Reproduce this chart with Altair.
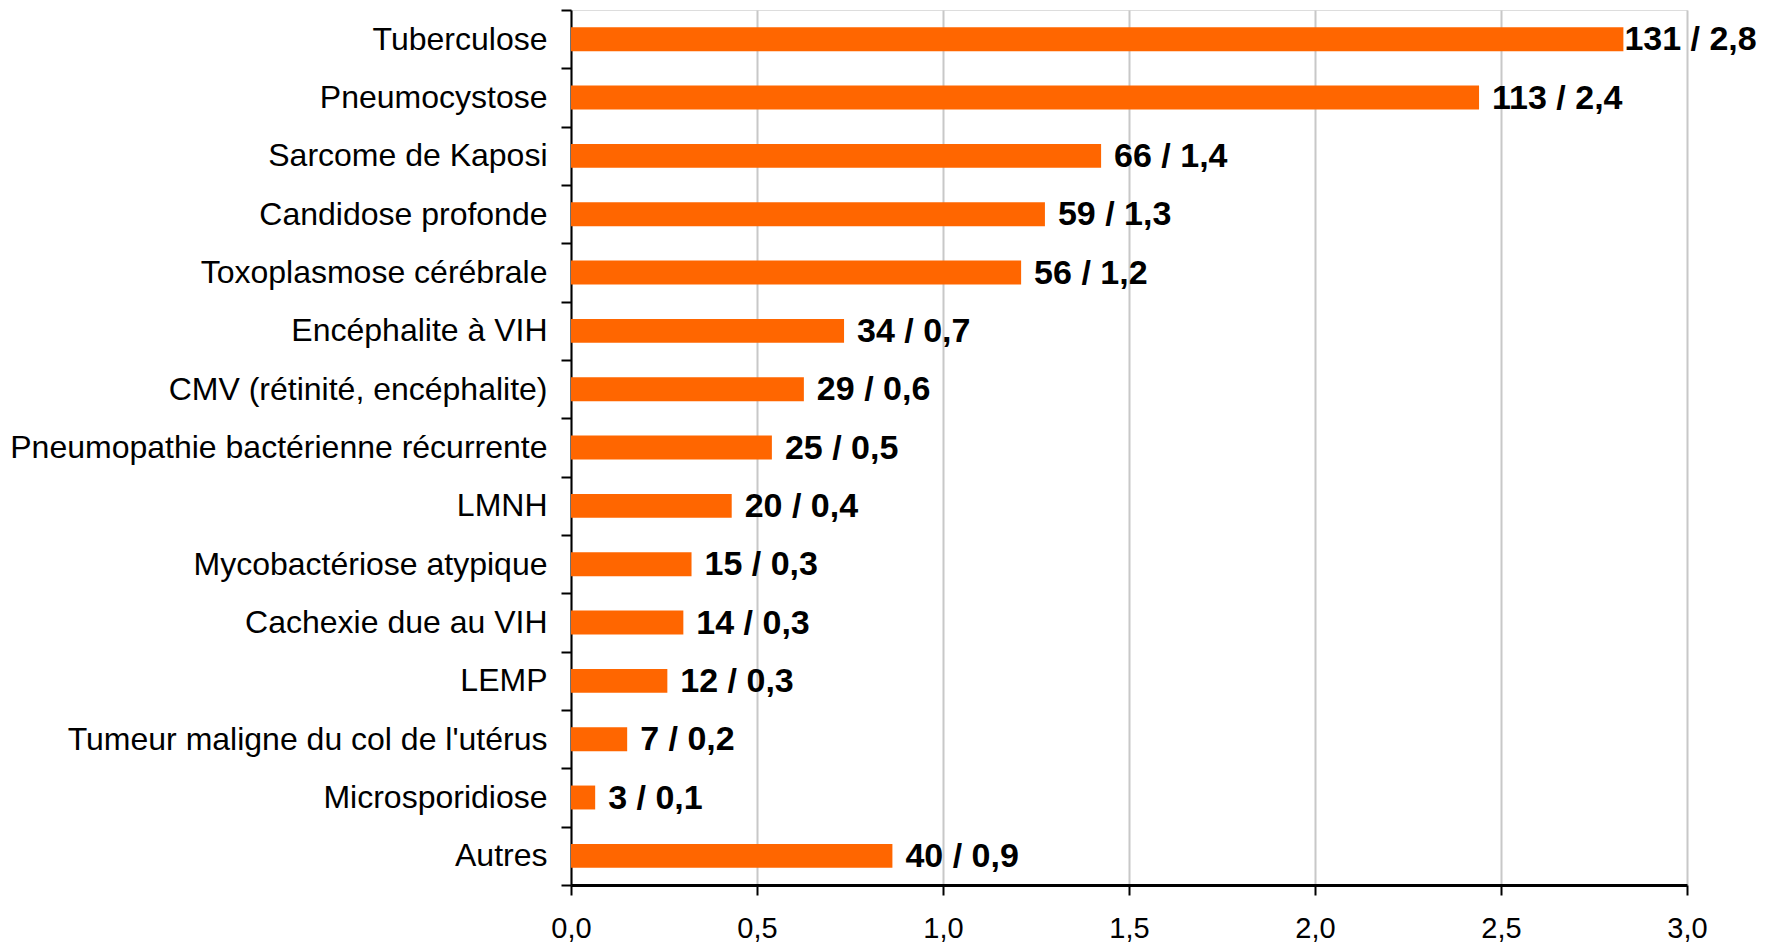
import altair as alt
import pandas as pd

categories = [
    "Tuberculose", "Pneumocystose", "Sarcome de Kaposi", "Candidose profonde",
    "Toxoplasmose cérébrale", "Encéphalite à VIH", "CMV (rétinité, encéphalite)",
    "Pneumopathie bactérienne récurrente", "LMNH", "Mycobactériose atypique",
    "Cachexie due au VIH", "LEMP", "Tumeur maligne du col de l'utérus",
    "Microsporidiose", "Autres",
]
counts = [131, 113, 66, 59, 56, 34, 29, 25, 20, 15, 14, 12, 7, 3, 40]
rates = [2.829, 2.441, 1.425, 1.274, 1.210, 0.734, 0.626, 0.540, 0.432, 0.324,
         0.302, 0.259, 0.151, 0.065, 0.864]
rate_labels = ["2,8", "2,4", "1,4", "1,3", "1,2", "0,7", "0,6", "0,5", "0,4",
               "0,3", "0,3", "0,3", "0,2", "0,1", "0,9"]

df = pd.DataFrame({
    "cat": categories,
    "count": counts,
    "rate": rates,
    "label": [f"{c} / {r}" for c, r in zip(counts, rate_labels)],
})

FONT = "Liberation Sans"

y_enc = alt.Y(
    "cat:N",
    sort=categories,
    title=None,
    scale=alt.Scale(paddingInner=0, paddingOuter=0),
    axis=alt.Axis(
        tickBand="extent",
        tickSize=10,
        tickColor="black",
        tickWidth=2,
        domainColor="black",
        domainWidth=2,
        labelFont=FONT,
        labelFontSize=32,
        labelColor="black",
        labelPadding=14,
        labelLimit=1000,
        grid=False,
    ),
)

x_enc = alt.X(
    "rate:Q",
    title=None,
    scale=alt.Scale(domain=[0, 3], nice=False, zero=True),
    axis=alt.Axis(
        values=[0, 0.5, 1.0, 1.5, 2.0, 2.5, 3.0],
        labelExpr="replace(format(datum.value, '.1f'), '.', ',')",
        grid=True,
        gridColor="#c8c8c8",
        gridWidth=2,
        tickSize=10,
        tickColor="black",
        tickWidth=2,
        domainColor="black",
        domainWidth=3,
        labelFont=FONT,
        labelFontSize=29,
        labelColor="black",
        labelPadding=19,
        labelFlush=False,
    ),
)

bars = alt.Chart(df).mark_bar(color="#FF6600", height={"band": 0.41}).encode(
    x=x_enc, y=y_enc
)

text_main = alt.Chart(df).transform_filter(
    "datum.cat != 'Tuberculose'"
).mark_text(
    align="left", baseline="middle", dx=13, dy=1, font=FONT, fontSize=34,
    fontWeight="bold", color="black"
).encode(
    x=alt.X("rate:Q"), y=alt.Y("cat:N", sort=categories), text="label:N"
)

text_top = alt.Chart(df).transform_filter(
    "datum.cat == 'Tuberculose'"
).mark_text(
    align="left", baseline="middle", dx=1, dy=1, font=FONT, fontSize=34,
    fontWeight="bold", color="black"
).encode(
    x=alt.X("rate:Q"), y=alt.Y("cat:N", sort=categories), text="label:N"
)

chart = alt.layer(bars, text_main, text_top).properties(
    width=1116,
    height=875,
    autosize=alt.AutoSizeParams(type="none"),
    padding={"left": 563, "top": 2, "right": 79, "bottom": 62},
).configure_view(stroke=None).configure(background="white")

chart.save("out.html", embed_options={"renderer": "svg", "actions": False})
